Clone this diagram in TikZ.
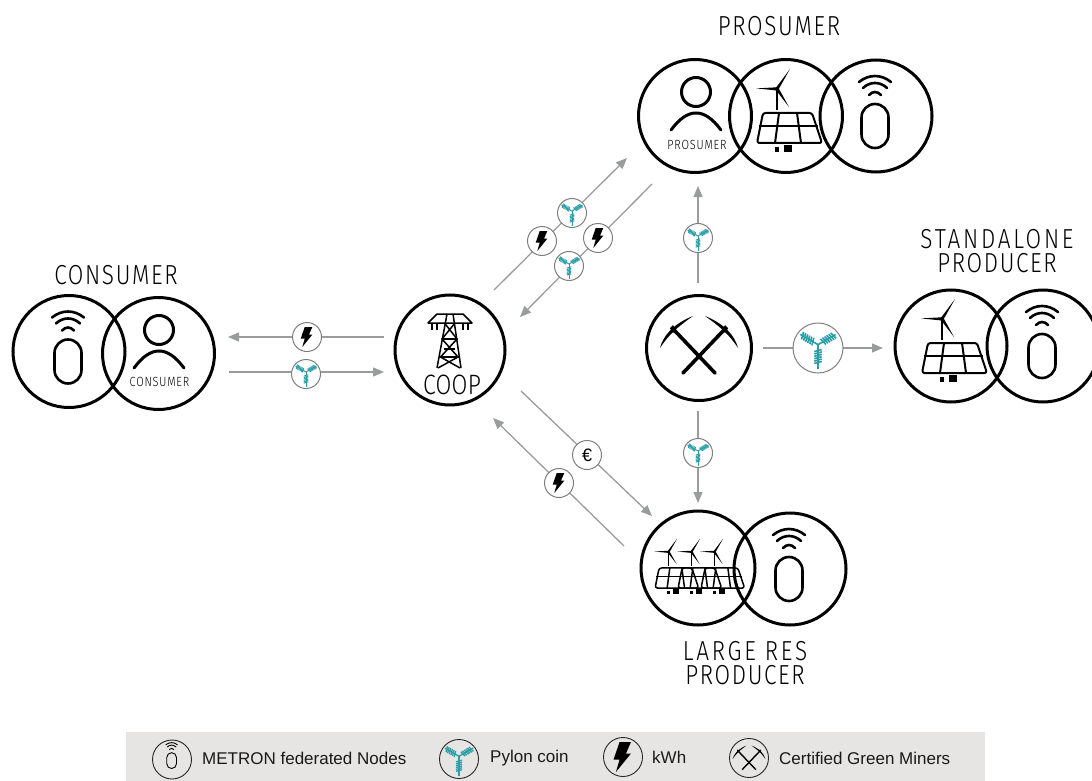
\documentclass[tikz,border=0pt]{standalone}
\usepackage{fontspec}
\setmainfont{Liberation Sans}
\newfontfamily\labelfont{Fira Sans}[UprightFont=* Light,FakeStretch=0.82,LetterSpace=6]
\newfontfamily\widelabelfont{Fira Sans}[UprightFont=* Light,FakeStretch=0.82,LetterSpace=10]
\newfontfamily\tightlabelfont{Fira Sans}[UprightFont=* Light,FakeStretch=0.82,LetterSpace=1]
\usetikzlibrary{arrows.meta}
\definecolor{teal1}{HTML}{2A9DA6}
\definecolor{conngray}{HTML}{9A9C9C}
\definecolor{coinedge}{HTML}{7F7F7F}
\definecolor{legendbg}{HTML}{E6E5E4}
\tikzset{
  big/.style={circle,draw=black,line width=3pt,minimum size=112pt,inner sep=0pt},
  coin/.style={circle,draw=coinedge,fill=white,line width=1pt,minimum size=29pt,inner sep=0pt},
  legendcirc/.style={circle,draw=black!85,line width=.9pt,minimum size=39pt,inner sep=0pt},
  conn/.style={draw=conngray,line width=1.3pt,-{Triangle[length=11pt,width=9pt]}},
  title/.style={font=\labelfont\fontsize{27.5}{27.5}\selectfont,inner sep=0pt},
  widetitle/.style={font=\widelabelfont\fontsize{27.5}{27.5}\selectfont,inner sep=0pt},
  small/.style={font=\labelfont\fontsize{13.3}{13.3}\selectfont,inner sep=0pt},
  legendtext/.style={font=\fontsize{17}{20}\selectfont,anchor=west,inner sep=0pt,text=black!90},
  pics/person/.style={code={
    \draw (0,-24) circle (14.5pt);
    \draw[line cap=round] (-25,14) .. controls (-16,2) and (-8,-3) .. (0,-3) .. controls (8,-3) and (16,2) .. (25,14);
  }},
  pics/metron/.style={code={
    \draw (-14.5,1.5) .. controls (-14.5,-6) and (-8.5,-12) .. (-1,-12)
       .. controls (6.5,-12) and (12.5,-6) .. (12.5,1.5) -- (12.5,18.5)
       .. controls (12.5,26) and (6.5,32) .. (-1,32)
       .. controls (-8.5,32) and (-14.5,26) .. (-14.5,18.5) -- cycle;
    \draw[line cap=round] (-17,-34) .. controls (-7,-42) and (5,-42) .. (15,-34);
    \draw[line cap=round] (-13,-28) .. controls (-6,-34.7) and (4,-34.7) .. (11,-28);
    \draw[line cap=round] (-7,-21) .. controls (-3,-25) and (1,-25) .. (5,-21);
  }},
  pics/solar/.style={code={
    \draw[line join=round,rounded corners=2.5pt] (-23,-3) -- (26,-3) -- (36,27) -- (-29,27) -- cycle;
    \draw (-27,10) -- (32,10);
    \draw (-7,-3) -- (-11,27);
    \draw (11,-3) -- (15,27);
    \fill (-11,31) rectangle (-7,36);
    \fill (-2,29) rectangle (6,36);
    \draw[line width=1.2pt] (-9,-27) -- (-9,-6);
    \fill (-30,-27.6) -- (-9,-28.7) -- (-9,-25.5) -- cycle;
    \fill (4,-47) -- (-10.4,-27.8) -- (-7.6,-26.4) -- cycle;
    \fill (3,-9) -- (-10,-25.8) -- (-7.4,-27.8) -- cycle;
    \fill (-9,-27) circle (2pt);
  }},
  pics/tower/.style={code={
    \draw[line join=round] (-22,-29) -- (-13,-38) -- (13,-38) -- (22,-29) -- cycle;
    \draw (-13,16) -- (-3,-38) (11,16) -- (3,-38);
    \draw (-8,-13) -- (7,-13) (-6,-3) -- (5,-3) (-10,5) -- (9,5);
    \draw (-5.5,-29) -- (7,-13) -- (-9.5,5) -- (10,16) (5,-29) -- (-8,-13) -- (8,5) -- (-12,16);
    \foreach \hx in {-18,-13,13,18} {\draw (\hx,-29) -- (\hx,-22);}
  }},
  pics/picks/.style={code={
    \foreach \sgn in {1,-1} {
      \begin{scope}[xscale=\sgn]
        \draw[line cap=round,line width=#1] (16,25) -- (-24,-17);
        \fill (-39,0) .. controls (-36,-12) and (-26,-24) .. (-6,-32)
           .. controls (-20,-22) and (-30,-14) .. cycle;
        \fill (-29.1,-19.7) -- (-26.1,-22.9) -- (-22.9,-18.3) -- (-25.9,-15.1) -- cycle;
      \end{scope}
    }
  }},
  pics/bolt/.style={code={
    \fill (-2.3,-10) -- (5.3,-10) -- (2,-2.3) -- (5.3,-2.3) -- (-4.7,10) -- (-2.3,1.7) -- (-6.3,1.7) -- cycle;
  }},
  pics/pylon/.style={code={
    \begin{scope}[shift={(0,-2)}]
    \foreach \ang/\len in {150/12,30/12,270/14.5} {
      \begin{scope}[rotate=\ang]
        \draw[teal1,line width=#1] (0,0) -- (\len,0);
        \foreach \hx in {3.5,4.9,6.3,7.7,9.1,10.5} {\draw[teal1,line width=#1] (\hx-.6,-2.2) -- (\hx+.6,2.2);}
      \end{scope}
    }
    \end{scope}
  }}
}
\begin{document}
\begin{tikzpicture}[x=1pt,y=-1pt]
\useasboundingbox (0,0) rectangle (1092,781);
% free ends of the connectors
\coordinate (a1s) at (384,337); \coordinate (a1e) at (228,337);
\coordinate (a2s) at (229,372); \coordinate (a2e) at (384,372);
\coordinate (a3s) at (494,290); \coordinate (a3e) at (627,158);
\coordinate (a4s) at (652,184); \coordinate (a4e) at (520,317);
\coordinate (a5s) at (698,283); \coordinate (a5e) at (698,186);
\coordinate (a6s) at (763,348); \coordinate (a6e) at (883,348);
\coordinate (a7s) at (698,411); \coordinate (a7e) at (698,503);
\coordinate (a8s) at (521,391); \coordinate (a8e) at (652,516);
\coordinate (a9s) at (624,546); \coordinate (a9e) at (493,418);
\foreach \i in {1,...,9} {\draw[conn] (a\i s) -- (a\i e);}
% large circles
\node[big] (consnode) at (69,351.5) {};
\node[big] (consperson) at (158.5,353.5) {};
\node[big,minimum size=110pt] (coop) at (450,350) {};
\node[big,minimum size=113pt] (prosperson) at (695,116) {};
\node[big,minimum size=113pt] (prossolar) at (786,116) {};
\node[big] (prosnode) at (876,116) {};
\node[big,minimum size=105pt] (miner) at (699,348) {};
\node[big] (stasolar) at (951,346) {};
\node[big] (stanode) at (1043,346) {};
\node[big,minimum size=114pt] (largesolar) at (698,568) {};
\node[big] (largenode) at (790,569) {};
% icons
\pic[line width=2.6pt] at (consnode) {metron};
\pic[line width=2.6pt] at (stanode) {metron};
\pic[line width=2.6pt] at (prosnode) {metron};
\pic[line width=2.6pt] at (largenode) {metron};
\pic[line width=3pt] at (159,354) {person};
\pic[line width=3pt] at (696,116) {person};
\pic[line width=2pt] at (prossolar) {solar};
\pic[line width=2pt] at (stasolar) {solar};
\pic[line width=1.5pt,scale=.67] at (674.5,570) {solar};
\pic[line width=1.5pt,scale=.67] at (697.5,570) {solar};
\pic[line width=1.5pt,scale=.67] at (720.5,570) {solar};
\pic[line width=1.5pt] at (450,352) {tower};
\pic at (miner) {picks=3.6pt};
\node[small] (lab1) at (159.5,382) {CONSUMER};
\node[small] (lab2) at (697,145) {PROSUMER};
\node[font=\tightlabelfont\fontsize{28}{28}\selectfont,inner sep=0pt] (lab3) at (452,385) {COOP};
% coins on the connectors
\node[coin] (c1) at (307,337) {}; \pic at (c1) {bolt};
\node[coin] (c2) at (306,374) {}; \pic at (c2) {pylon=1pt};
\node[coin] (c3) at (572,213) {}; \pic at (c3) {pylon=1pt};
\node[coin] (c4) at (542,241) {}; \pic at (c4) {bolt};
\node[coin] (c5) at (598,238) {}; \pic at (c5) {bolt};
\node[coin] (c6) at (569,266) {}; \pic at (c6) {pylon=1pt};
\node[coin] (c7) at (698,238) {}; \pic at (c7) {pylon=1pt};
\node[coin,minimum size=50pt] (c8) at (818,348) {}; \pic[scale=1.7] at (c8) {pylon=1.6pt};
\node[coin] (c9) at (698,453) {}; \pic at (c9) {pylon=1pt};
\node[coin,font=\fontsize{18}{18}\selectfont] (c10) at (587,455) {€};
\node[coin] (c11) at (559,483) {}; \pic at (c11) {bolt};
% titles
\node[title] (t1) at (779,26) {PROSUMER};
\node[title] (t2) at (116,275) {CONSUMER};
\node[widetitle] (t3) at (997,239) {STANDALONE};
\node[title] (t4) at (997,263) {PRODUCER};
\node[widetitle] (t5) at (745,651) {LARGE RES};
\node[title] (t6) at (745,675) {PRODUCER};
% legend
\fill[legendbg] (126,732) rectangle (985,781);
\node[legendcirc] (l1) at (172,759.5) {}; \pic[line width=.9pt,scale=.36] at (172,757) {metron};
\node[legendtext] (lt1) at (202,758) {METRON federated Nodes};
\node[legendcirc] (l2) at (459,759) {}; \pic[scale=1.35] at (l2) {pylon=1.3pt};
\node[legendtext] (lt2) at (490,758) {Pylon coin};
\node[legendcirc] (l3) at (623,757) {}; \pic[scale=1.5] at (l3) {bolt};
\node[legendtext] (lt3) at (652,757) {kWh};
\node[legendcirc] (l4) at (749,758) {}; \pic[scale=.42] at (749,759) {picks=1.4pt};
\node[legendtext] (lt4) at (779,758) {Certified Green Miners};
\end{tikzpicture}
\end{document}
